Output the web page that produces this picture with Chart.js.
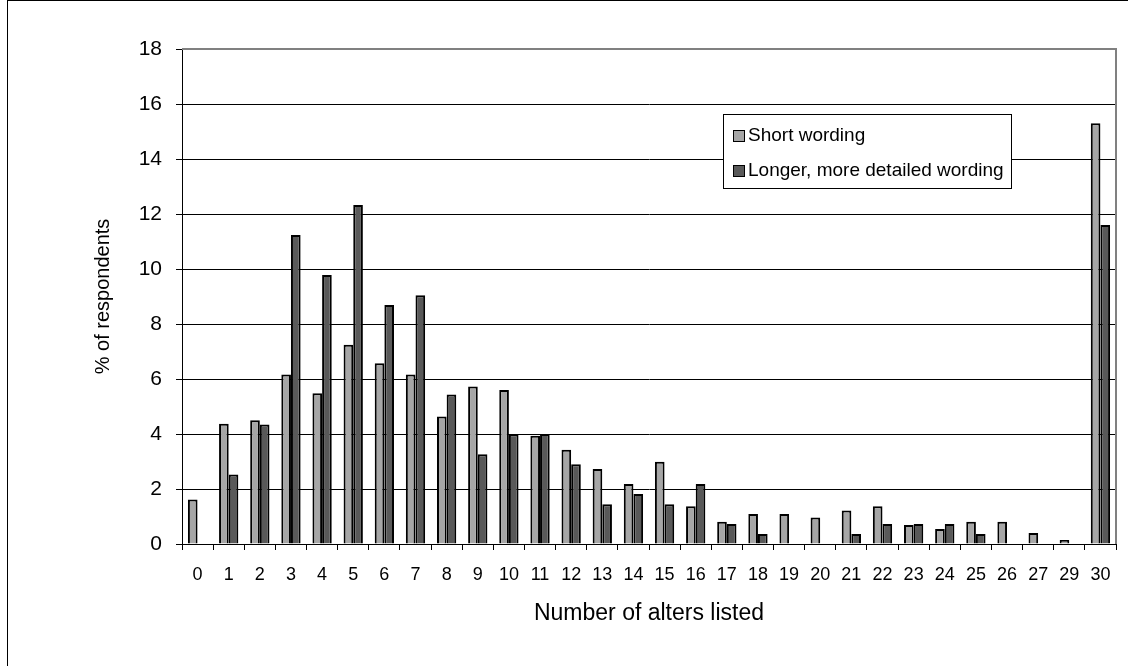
<!DOCTYPE html>
<html>
<head>
<meta charset="utf-8">
<script src="https://cdn.jsdelivr.net/npm/chart.js@4.4.0/dist/chart.umd.min.js"></script>
<style>
html, body { margin: 0; padding: 0; background: #fff; overflow: hidden; }
#wrap { position: relative; width: 1128px; height: 666px; }
#frame { position: absolute; left: 7px; top: 0; width: 1140px; height: 700px; border: 1px solid #000; pointer-events: none; }
canvas { position: absolute; left: 0; top: 0; }
</style>
</head>
<body>
<div id="wrap">
  <canvas id="chart" width="1128" height="666"></canvas>
  <div id="frame"></div>
</div>
<script>
// Chart data
const categories = ['0', '1', '2', '3', '4', '5', '6', '7', '8', '9', '10', '11', '12', '13', '14',
    '15', '16', '17', '18', '19', '20', '21', '22', '23', '24', '25', '26', '27', '29', '30'];
const shortWording = [1.62, 4.37, 4.50, 6.16, 5.48, 7.25, 6.57, 6.16, 4.64, 5.73, 5.60, 3.94, 3.43, 2.73, 2.18,
    2.99, 1.37, 0.81, 1.09, 1.09, 0.96, 1.22, 1.37, 0.69, 0.55, 0.81, 0.81, 0.40, 0.15, 15.3];
const longerWording = [0, 2.53, 4.35, 11.24, 9.78, 12.33, 8.69, 9.05, 5.44, 3.26, 3.99, 4.00, 2.90, 1.45, 1.82,
    1.45, 2.18, 0.73, 0.36, 0, 0, 0.36, 0.73, 0.73, 0.73, 0.36, 0, 0, 0, 11.6];
const seriesLabels = ['Short wording', 'Longer, more detailed wording'];
const yMin = 0;
const yMax = 18;
const yStep = 2;

const FONT = '"Liberation Sans", Arial, sans-serif';

// Grey plot-area border on top and right, like the Excel original
const plotBorder = {
    id: 'plotBorder',
    afterDatasetsDraw(chart) {
        const { ctx, chartArea: a } = chart;
        ctx.save();
        ctx.strokeStyle = '#808080';
        ctx.lineWidth = 2;
        ctx.beginPath();
        ctx.moveTo(a.left, a.top);
        ctx.lineTo(a.right, a.top);
        ctx.lineTo(a.right, a.bottom);
        ctx.stroke();
        ctx.restore();
    }
};

// Boxed legend sitting inside the plot area
const boxLegend = {
    id: 'boxLegend',
    afterDraw(chart) {
        const ctx = chart.ctx;
        const x = 723, y = 114, w = 288, h = 74;
        ctx.save();
        ctx.fillStyle = '#fff';
        ctx.fillRect(x, y, w, h);
        ctx.strokeStyle = '#000';
        ctx.lineWidth = 1;
        ctx.strokeRect(x + 0.5, y + 0.5, w, h);
        ctx.font = '19px ' + FONT;
        ctx.textBaseline = 'middle';
        chart.data.datasets.forEach((ds, i) => {
            const cy = y + 22 + i * 35;
            ctx.fillStyle = ds.backgroundColor;
            ctx.fillRect(x + 10, cy - 6, 12, 12);
            ctx.strokeRect(x + 10.5, cy - 5.5, 11, 11);
            ctx.fillStyle = '#000';
            ctx.fillText(ds.label, x + 25, cy);
        });
        ctx.restore();
    }
};

new Chart(document.getElementById('chart'), {
    type: 'bar',
    data: {
        labels: categories,
        datasets: [{
            label: seriesLabels[0],
            data: shortWording,
            backgroundColor: '#a6a6a6',
            borderColor: '#000',
            borderWidth: 2,
            categoryPercentage: 0.62,
            barPercentage: 1.0
        }, {
            label: seriesLabels[1],
            data: longerWording,
            backgroundColor: '#595959',
            borderColor: '#000',
            borderWidth: 2,
            categoryPercentage: 0.62,
            barPercentage: 1.0
        }]
    },
    options: {
        responsive: false,
        animation: false,
        layout: { padding: { left: 0, top: 49, right: 12, bottom: 0 } },
        plugins: {
            legend: { display: false },
            tooltip: { enabled: false }
        },
        scales: {
            x: {
                grid: { drawOnChartArea: false, drawTicks: true, tickLength: 6, color: '#000', offset: true },
                border: { color: '#000', width: 1 },
                ticks: { color: '#000', font: { size: 18, family: FONT }, padding: 14, maxRotation: 0, autoSkip: false },
                title: {
                    display: true,
                    text: 'Number of alters listed',
                    color: '#000',
                    font: { size: 23, family: FONT },
                    padding: { top: 0, bottom: 39 }
                },
                afterFit(scale) { scale.height = 122; }
            },
            y: {
                min: yMin,
                max: yMax,
                ticks: { stepSize: yStep, color: '#000', font: { size: 21, family: FONT }, padding: 14 },
                grid: { color: '#000', lineWidth: 1, tickLength: 6 },
                border: { color: '#000', width: 1 },
                title: {
                    display: true,
                    text: '% of respondents',
                    color: '#000',
                    font: { size: 20, family: FONT },
                    padding: { top: 91, bottom: 0 }
                },
                afterFit(scale) { scale.width = 182; }
            }
        }
    },
    plugins: [plotBorder, boxLegend]
});
</script>
</body>
</html>
